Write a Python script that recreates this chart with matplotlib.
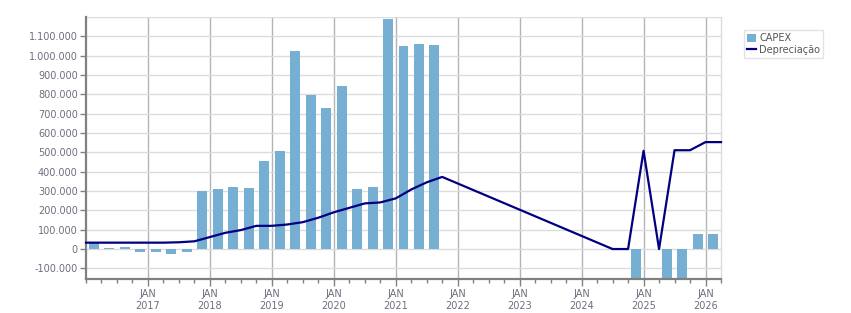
import matplotlib
matplotlib.use("Agg")
import matplotlib.pyplot as plt
from matplotlib.ticker import FixedLocator, FuncFormatter, MultipleLocator

# quarters 2016Q1 .. 2026Q1
quarters = [f"{2016 + i // 4}Q{i % 4 + 1}" for i in range(41)]

capex = [30000, 7000, 10000, -14000, -14000, -26000, -14000, 300000,
         310000, 320000, 315000, 455000, 506000, 1022000, 795000, 728000,
         842000, 310000, 320000, 1192000, 1048000, 1059000, 1054000, None,
         None, None, None, None, None, None, None, None,
         None, 2000, 0, -180000, 2000, -180000, -180000, 77000,
         77000]

# depreciation at the end of each quarter, 2015Q4 .. 2026Q1
dep_quarters = ["2015Q4"] + quarters
depreciacao = [33000, 33000, 33000, 33000, 33000, 33000, 35000, 40000, 62000,
               84000, 98000, 120000, 120000, 127000, 139000, 162000, 190000,
               213000, 236000, 241000, 262000, 308000, 345000, 373000, None,
               None, None, None, None, None, None, None, None,
               None, 0, 0, 508000, 0, 511000, 511000, 553000,
               553000]

years = list(range(2017, 2027))


def qpos(label):
    y, q = label.split("Q")
    return (int(y) - 2016) * 4 + int(q) - 1


def thousands(v, pos):
    return f"{int(round(v)):,}".replace(",", ".")


def main():
    fig = plt.figure(figsize=(8.51, 3.13), dpi=100)
    ax = fig.add_axes([86 / 851, 33.7 / 313, 635 / 851, 262.3 / 313])

    bx = [qpos(q) for q, v in zip(quarters, capex) if v is not None]
    bv = [v for v in capex if v is not None]
    bars = ax.bar(bx, bv, width=0.645, color="#77afd2", label="CAPEX", zorder=2)

    lx = [qpos(q) + 0.5 for q, v in zip(dep_quarters, depreciacao) if v is not None]
    lv = [v for v in depreciacao if v is not None]
    line, = ax.plot(lx, lv, color="#000080", lw=1.6, label="Depreciação", zorder=3,
                    clip_on=False)

    ax.set_xlim(-0.5, 40.5)
    ax.set_ylim(-156500, 1200000)

    ax.yaxis.set_major_locator(FixedLocator(range(-100000, 1100001, 100000)))
    ax.yaxis.set_major_formatter(FuncFormatter(thousands))
    ax.yaxis.grid(True, color="#dcdcdc", lw=1)
    ax.axhline(1200000, color="#dcdcdc", lw=1, zorder=1)

    ax.xaxis.set_major_locator(FixedLocator([(y - 2016) * 4 - 0.5 for y in years]))
    ax.set_xticklabels([f"JAN\n{y}" for y in years])
    ax.xaxis.set_minor_locator(MultipleLocator(1, offset=0.5))
    ax.xaxis.grid(True, color="#b4b4b4", lw=1)
    ax.set_axisbelow(True)

    ax.tick_params(axis="y", labelsize=7, colors="#808080", labelcolor="#6e6e7e",
                   length=4, width=1, pad=2)
    ax.tick_params(axis="x", which="major", labelsize=7, colors="#808080",
                   labelcolor="#6e6e7e", length=5, width=1, pad=2)
    ax.tick_params(axis="x", which="minor", colors="#808080", length=3, width=1)

    for s in ("left", "bottom"):
        ax.spines[s].set_color("#808080")
        ax.spines[s].set_linewidth(1.6)
    ax.spines["top"].set_visible(False)
    ax.spines["right"].set_color("#dcdcdc")
    ax.spines["right"].set_linewidth(1)

    leg = fig.legend([bars, line], ["CAPEX", "Depreciação"], loc="upper left",
                     bbox_to_anchor=(744 / 851, 1 - 30 / 313),
                     fontsize=7, frameon=True, fancybox=False, borderpad=0.35,
                     handlelength=0.9, handleheight=0.9, handletextpad=0.3,
                     labelspacing=0.15, borderaxespad=0)
    leg.get_frame().set_edgecolor("#dcdcdc")
    leg.get_frame().set_linewidth(1)
    for t in leg.get_texts():
        t.set_color("#555555")

    fig.savefig("out.png", dpi=100)


if __name__ == "__main__":
    main()
